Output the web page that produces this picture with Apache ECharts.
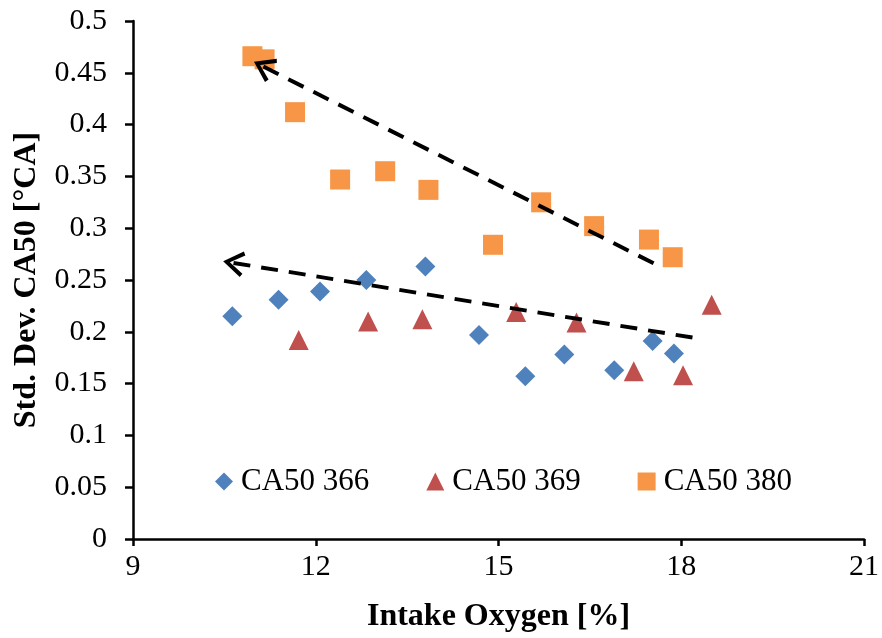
<!DOCTYPE html>
<html><head><meta charset="utf-8">
<script src="https://cdn.jsdelivr.net/npm/echarts@6/dist/echarts.min.js"></script>
<style>html,body{margin:0;padding:0;background:#fff}#c{width:882px;height:638px}</style>
</head><body><div id="c"></div>
<script>
var xTicks = [9, 12, 15, 18, 21];
var s366x = [10.63, 11.39, 12.07, 12.83, 13.80, 14.68, 15.44, 16.08, 16.90, 17.53, 17.88];
var s366y = [0.215, 0.231, 0.239, 0.250, 0.263, 0.197, 0.157, 0.178, 0.163, 0.191, 0.179];
var s369x = [11.72, 12.86, 13.75, 15.29, 16.28, 17.22, 18.03, 18.50];
var s369y = [0.192, 0.210, 0.212, 0.219, 0.209, 0.162, 0.158, 0.226];
var s380x = [10.96, 11.16, 11.66, 12.40, 13.14, 13.85, 14.91, 15.70, 16.57, 17.47, 17.86];
var s380y = [0.466, 0.463, 0.412, 0.347, 0.355, 0.337, 0.284, 0.325, 0.302, 0.289, 0.272];
var arrowTop = [[11.14, 0.456], [17.55, 0.266]];
var arrowBottom = [[10.65, 0.2665], [18.28, 0.1935]];

function zip(xs, ys){ return xs.map(function(x,i){return [x, ys[i]];}); }
var chev = 'path://M0,0 L12,18 L8.5,20 L0,6.5 L-8.5,20 L-12,18 Z';
function arrowLine(pts){
  return {
    silent: true,
    symbol: [chev, 'none'],
    symbolSize: [26, 21],
    label: {show: false},
    lineStyle: {color: '#000', width: 4, type: [17, 11]},
    data: [[{coord: pts[0]}, {coord: pts[1]}]]
  };
}
var font = 'Liberation Serif';
var chart = echarts.init(document.getElementById('c'));
chart.setOption({
  animation: false,
  textStyle: {fontFamily: font},
  grid: {left: 133, right: 17, top: 21, bottom: 98},
  legend: {
    left: 210, top: 461, itemWidth: 18, itemHeight: 18, itemGap: 57,
    textStyle: {fontFamily: font, fontSize: 31, color: '#000', padding: [0, 0, 0, 3]},
    data: ['CA50 366', 'CA50 369', 'CA50 380']
  },
  xAxis: {
    type: 'value', min: 9, max: 21, interval: 3,
    name: 'Intake Oxygen [%]', nameLocation: 'middle', nameGap: 62,
    nameTextStyle: {fontFamily: font, fontSize: 32, fontWeight: 'bold', color: '#000'},
    axisLine: {lineStyle: {color: '#000', width: 2.5}},
    axisTick: {show: true, length: 7, lineStyle: {color: '#000', width: 2.5}},
    axisLabel: {fontFamily: font, fontSize: 30, color: '#000', margin: 13,
      formatter: function(v){ return xTicks.indexOf(v) >= 0 ? String(v) : ''; }},
    splitLine: {show: false}
  },
  yAxis: {
    type: 'value', min: 0, max: 0.5, interval: 0.05,
    name: 'Std. Dev. CA50 [°CA]', nameLocation: 'middle', nameGap: 90,
    nameTextStyle: {fontFamily: font, fontSize: 32, fontWeight: 'bold', color: '#000'},
    axisLine: {show: true, lineStyle: {color: '#000', width: 2.5}},
    axisTick: {show: true, length: 8, lineStyle: {color: '#000', width: 2.5}},
    axisLabel: {fontFamily: font, fontSize: 30, color: '#000', margin: 26,
      formatter: function(v){ return String(Math.round(v*100)/100); }},
    splitLine: {show: false}
  },
  series: [
    {name: 'CA50 366', type: 'scatter', symbol: 'diamond', symbolSize: 20,
      itemStyle: {color: '#4F81BD', opacity: 1}, data: zip(s366x, s366y), z: 3},
    {name: 'CA50 369', type: 'scatter', symbol: 'triangle', symbolSize: 20,
      itemStyle: {color: '#C0504D', opacity: 1}, data: zip(s369x, s369y), z: 3},
    {name: 'CA50 380', type: 'scatter', symbol: 'rect', symbolSize: 20,
      itemStyle: {color: '#F79646', opacity: 1}, data: zip(s380x, s380y), z: 3,
      markLine: arrowLine(arrowTop)},
    {name: 'trend', type: 'line', data: [], markLine: arrowLine(arrowBottom), z: 5}
  ]
});
</script></body></html>
